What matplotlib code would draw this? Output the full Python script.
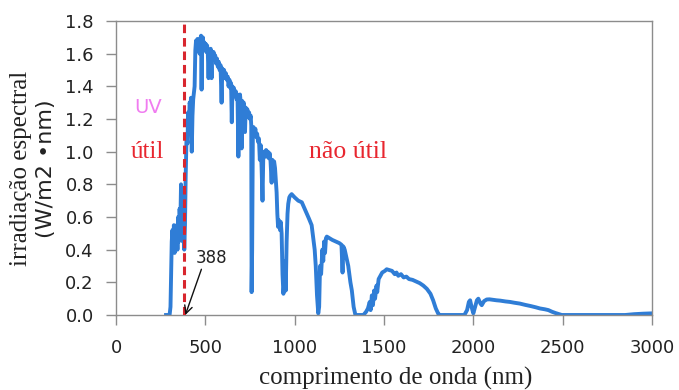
import matplotlib.pyplot as plt

# spectrum (nm, W/m2/nm)
wavelength = [
    280, 300, 305, 312, 316, 320, 324, 328, 332, 336, 340, 344, 348, 352, 356,
    360, 364, 367, 370, 374, 378, 382, 386, 390, 395, 400, 404, 408, 412, 416,
    420, 424, 428, 432, 436, 440, 444, 448, 452, 456, 460, 464, 468, 472, 476,
    479, 482, 486, 490, 494, 498, 502, 506, 510, 514, 518, 522, 526, 530, 535,
    538, 542, 546, 550, 555, 560, 565, 570, 575, 580, 585, 591, 595, 600, 605,
    610, 615, 620, 625, 630, 635, 640, 644, 648, 652, 656, 660, 665, 670, 675,
    680, 685, 689, 694, 698, 703, 707, 711, 715, 719, 722, 726, 730, 735, 740,
    745, 750, 754, 757, 759, 762, 766, 770, 775, 780, 785, 790, 795, 800, 805,
    810, 815, 820, 824, 828, 835, 840, 845, 850, 855, 860, 865, 871, 875, 880,
    885, 890, 895, 899, 903, 907, 912, 918, 922, 927, 932, 937, 942, 946, 950,
    955, 960, 964, 970, 975, 983, 1000, 1020, 1040, 1060, 1080, 1095, 1105, 1112, 1118,
    1125, 1132, 1137, 1142, 1148, 1155, 1160, 1165, 1170, 1175, 1180, 1195, 1210, 1230, 1250,
    1262, 1268, 1272, 1280, 1288, 1300, 1312, 1320, 1330, 1340, 1385, 1400, 1410, 1420, 1425,
    1432, 1438, 1445, 1450, 1458, 1462, 1470, 1480, 1490, 1505, 1515, 1530, 1545, 1560, 1570,
    1580, 1595, 1610, 1625, 1640, 1660, 1680, 1700, 1720, 1740, 1760, 1775, 1790, 1805, 1815,
    1950, 1965, 1975, 1982, 1990, 2000, 2010, 2020, 2028, 2040, 2047, 2060, 2075, 2090, 2110,
    2130, 2150, 2180, 2205, 2230, 2260, 2290, 2320, 2350, 2373, 2400, 2420, 2440, 2460, 2480,
    2495, 2850, 2900, 2950, 3000,
]
irradiance = [
    0.0, 0.0, 0.05, 0.45, 0.52, 0.40, 0.55, 0.38, 0.50, 0.42, 0.55, 0.40, 0.60, 0.45, 0.65,
    0.55, 0.80, 0.60, 0.75, 0.45, 0.70, 0.40, 0.55, 0.85, 1.10, 1.05, 1.24, 1.12, 1.30, 1.28,
    1.33, 1.00, 1.22, 1.32, 1.36, 1.40, 1.62, 1.68, 1.62, 1.69, 1.62, 1.68, 1.60, 1.69, 1.71,
    1.38, 1.66, 1.70, 1.63, 1.67, 1.62, 1.66, 1.61, 1.65, 1.60, 1.45, 1.62, 1.59, 1.63, 1.45,
    1.61, 1.57, 1.61, 1.56, 1.59, 1.54, 1.57, 1.52, 1.55, 1.50, 1.53, 1.30, 1.51, 1.47, 1.50,
    1.45, 1.48, 1.44, 1.46, 1.40, 1.44, 1.39, 1.42, 1.18, 1.40, 1.36, 1.39, 1.34, 1.37, 1.32,
    1.35, 0.97, 1.31, 1.35, 1.30, 1.02, 1.31, 1.27, 1.30, 1.25, 1.12, 1.27, 1.23, 1.26, 1.21,
    1.24, 1.20, 1.22, 1.16, 0.14, 0.40, 1.12, 1.15, 1.11, 1.14, 1.09, 1.11, 1.06, 1.08, 0.95,
    1.04, 0.90, 0.70, 0.95, 1.00, 0.97, 1.01, 0.97, 1.00, 0.96, 0.99, 0.94, 0.81, 0.95, 0.91,
    0.94, 0.90, 0.82, 0.75, 0.62, 0.54, 0.58, 0.52, 0.57, 0.50, 0.25, 0.13, 0.20, 0.33, 0.15,
    0.45, 0.62, 0.68, 0.72, 0.73, 0.74, 0.72, 0.70, 0.69, 0.64, 0.59, 0.55, 0.46, 0.40, 0.30,
    0.12, 0.01, 0.05, 0.30, 0.25, 0.40, 0.33, 0.45, 0.38, 0.47, 0.48, 0.47, 0.46, 0.45, 0.44,
    0.43, 0.26, 0.42, 0.40, 0.36, 0.30, 0.20, 0.15, 0.05, 0.0, 0.0, 0.02, 0.04, 0.08, 0.03,
    0.12, 0.06, 0.15, 0.10, 0.18, 0.14, 0.22, 0.24, 0.26, 0.27, 0.28, 0.275, 0.27, 0.25, 0.26,
    0.24, 0.25, 0.23, 0.235, 0.22, 0.215, 0.205, 0.195, 0.18, 0.16, 0.13, 0.09, 0.04, 0.005, 0.0,
    0.0, 0.03, 0.08, 0.09, 0.05, 0.01, 0.05, 0.09, 0.10, 0.07, 0.06, 0.085, 0.095, 0.096, 0.093,
    0.09, 0.088, 0.083, 0.08, 0.075, 0.07, 0.062, 0.055, 0.047, 0.04, 0.035, 0.03, 0.02, 0.012, 0.005,
    0.0, 0.0, 0.005, 0.008, 0.01,
]
assert len(wavelength) == len(irradiance)

cutoff = 378          # dashed line position (labelled 388)
x_ticks = [0, 500, 1000, 1500, 2000, 2500, 3000]
y_ticks = [0.0, 0.2, 0.4, 0.6, 0.8, 1.0, 1.2, 1.4, 1.6, 1.8]

SERIF = 'Liberation Serif'
SANS = 'DejaVu Sans'
W, H = 679, 390

fig = plt.figure(figsize=(6.79, 3.90), dpi=100)
ax = fig.add_axes([116 / W, 1 - 315 / H, 536 / W, 294 / H])

ax.plot(wavelength, irradiance, color='#2f7dd6', linewidth=2.8,
        solid_joinstyle='round', zorder=2)
ax.axvline(cutoff, color='#d8262e', linestyle=(0, (2.8, 1.6)), linewidth=2.2, zorder=3)

ax.set_xlim(0, 3000)
ax.set_ylim(0, 1.8)
ax.set_xticks(x_ticks)
ax.set_yticks(y_ticks)
ax.set_yticklabels([f'{v:.1f}' for v in y_ticks])

for s in ax.spines.values():
    s.set_color('#8c8c8c')
    s.set_linewidth(1.0)
ax.tick_params(axis='both', direction='out', length=7, width=1, color='#8c8c8c',
               labelsize=13, labelcolor='#222222')
ax.tick_params(axis='y', pad=9)
ax.tick_params(axis='x', pad=10)
for lab in ax.get_xticklabels() + ax.get_yticklabels():
    lab.set_fontfamily(SANS)

# axis titles placed where the reference has them
fig.text(396 / W, 1 - 378 / H, 'comprimento de onda (nm)', fontsize=18,
         family=SERIF, color='#222222', ha='center', va='center')
fig.text(21 / W, 1 - 168 / H, 'irradiação espectral', rotation=90, fontsize=18,
         family=SERIF, color='#222222', ha='center', va='center')
fig.text(46 / W, 1 - 169 / H, '(W/m2 •nm)', rotation=90, fontsize=16,
         family=SANS, color='#222222', ha='center', va='center')

ax.text(179, 1.27, 'UV', fontsize=14, family=SANS, color='#f07cf0', ha='center', va='center')
ax.text(175, 1.0, 'útil', fontsize=18, family=SERIF, color='#e8262f', ha='center', va='center')
ax.text(1300, 1.0, 'não útil', fontsize=18.5, family=SERIF, color='#e8262f',
        ha='center', va='center')

ax.text(532, 0.35, '388', fontsize=12, family=SANS, color='#222222', ha='center', va='center')
ax.annotate('', xy=(388, 0.0), xytext=(478, 0.28),
            arrowprops=dict(arrowstyle='->', color='#111111', lw=1.0,
                            shrinkA=0, shrinkB=0, mutation_scale=14))

fig.savefig('out.png', dpi=100, facecolor='white')
